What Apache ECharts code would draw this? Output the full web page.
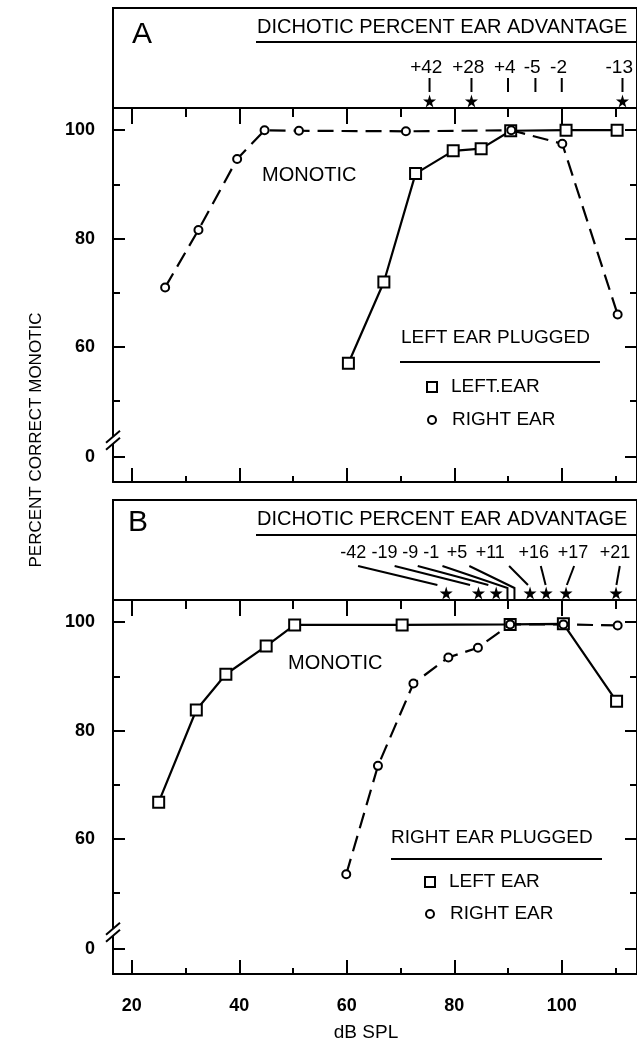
<!DOCTYPE html>
<html>
<head>
<meta charset="utf-8">
<script src="https://cdn.jsdelivr.net/npm/echarts@6/dist/echarts.min.js"></script>
<style>
  html, body { margin: 0; padding: 0; background: #fff; }
  #chart { width: 637px; height: 1044px; }
</style>
</head>
<body>
<div id="chart"></div>
<script>
// ---- Monotic percent correct vs. sound level (dB SPL) ----
// Panel A: left ear plugged
const panelA_leftEar_db   = [60.3, 66.9, 72.8, 79.8, 85, 90.5, 100.8, 110.3];
const panelA_leftEar_pct  = [57, 72, 92, 96.2, 96.6, 99.9, 100, 100];
const panelA_rightEar_db  = [26.2, 32.4, 39.6, 44.7, 51.1, 71, 90.6, 100.1, 110.4];
const panelA_rightEar_pct = [71, 81.6, 94.7, 100, 99.9, 99.8, 100, 97.5, 66];

// Panel B: right ear plugged
const panelB_leftEar_db   = [25, 32, 37.5, 45, 50.3, 70.3, 90.4, 100.3, 110.2];
const panelB_leftEar_pct  = [66.8, 83.8, 90.4, 95.6, 99.5, 99.5, 99.6, 99.7, 85.4];
const panelB_rightEar_db  = [59.9, 65.8, 72.4, 78.9, 84.4, 90.4, 100.3, 110.4];
const panelB_rightEar_pct = [53.5, 73.5, 88.7, 93.5, 95.3, 99.6, 99.6, 99.4];

// ---- Dichotic percent ear advantage annotations ----
const dichoticA_labels = ['+42', '+28', '+4', '-5', '-2', '-13'];
const dichoticA_db     = [75.4, 83.2, 90, 95.1, 100, 111.3];
const dichoticA_star   = [true, true, false, false, false, true];

const dichoticB_labels     = ['-42', '-19', '-9', '-1', '+5', '+11', '+16', '+17', '+21'];
const dichoticB_labelDb    = [61.2, 67.0, 71.8, 75.7, 80.5, 86.7, 94.8, 102.1, 109.9];
const dichoticB_leaderFrom = [62.1, 68.9, 73.2, 77.8, 82.8, 90.2, 96.1, 102.3, 110.8];
const dichoticB_db         = [78.5, 84.5, 87.8, 89.9, 91.2, 94.1, 97.1, 100.8, 110.1];
const dichoticB_star       = [true, true, true, false, false, true, true, true, true];

// ---- Axis ticks / labels ----
const xMajorTicks = [20, 40, 60, 80, 100];
const xMinorTicks = [30, 50, 70, 90, 110];
const yBreakZero  = 39.7;            // broken axis: where "0" sits
const yBreakMark  = 42.8;            // where the // break symbol crosses the axis
const yMajorTicks = [yBreakZero, 60, 80, 100];
const yMinorTicks = [50, 70, 90];

// ---- Layout / style ----
const INK = '#000';
const FONT = '"Liberation Sans", Arial, Helvetica, sans-serif';
const X_MIN = 16.5, X_MAX = 114;
const Y_MIN = 35.1, Y_MAX = 104.1;
const GL = 113, GW = 525;
const STAR = 'path://M50,0 L61,35 L98,35 L68,57 L79,91 L50,70 L21,91 L32,57 L2,35 L39,35 Z';

const chart = echarts.init(document.getElementById('chart'));

const tickLine = { color: INK, width: 2 };
const axisLineOn = { show: true, lineStyle: { color: INK, width: 2 } };

function plotXAxes(gridIndex, showLabels) {
  const base = { gridIndex, type: 'value', min: X_MIN, max: X_MAX, splitLine: { show: false } };
  return [
    Object.assign({}, base, {
      position: 'bottom', axisLine: axisLineOn,
      axisTick: { show: true, inside: true, length: 14, customValues: xMajorTicks, lineStyle: tickLine },
      axisLabel: { show: showLabels, customValues: xMajorTicks, margin: 23, color: INK, fontSize: 18, fontWeight: 'bold', fontFamily: FONT }
    }),
    Object.assign({}, base, {
      position: 'bottom', axisLine: { show: false },
      axisTick: { show: true, inside: true, length: 6, customValues: xMinorTicks, lineStyle: tickLine },
      axisLabel: { show: false }
    }),
    Object.assign({}, base, {
      position: 'top', axisLine: axisLineOn,
      axisTick: { show: true, inside: true, length: 16, customValues: xMajorTicks, lineStyle: tickLine },
      axisLabel: { show: false }
    }),
    Object.assign({}, base, {
      position: 'top', axisLine: { show: false },
      axisTick: { show: true, inside: true, length: 9, customValues: xMinorTicks, lineStyle: tickLine },
      axisLabel: { show: false }
    })
  ];
}

function plotYAxes(gridIndex) {
  const base = { gridIndex, type: 'value', min: Y_MIN, max: Y_MAX, splitLine: { show: false } };
  return [
    Object.assign({}, base, {
      position: 'left', axisLine: axisLineOn,
      axisTick: { show: true, inside: true, length: 12, customValues: yMajorTicks, lineStyle: tickLine },
      axisLabel: {
        show: true, customValues: yMajorTicks, margin: 18, color: INK, fontSize: 18, fontWeight: 'bold', fontFamily: FONT,
        formatter: v => (Math.abs(v - yBreakZero) < 0.01 ? '0' : String(v))
      }
    }),
    Object.assign({}, base, {
      position: 'left', axisLine: { show: false },
      axisTick: { show: true, inside: true, length: 7, customValues: yMinorTicks, lineStyle: tickLine },
      axisLabel: { show: false }
    }),
    Object.assign({}, base, {
      position: 'right', axisLine: axisLineOn,
      axisTick: { show: true, inside: true, length: 12, customValues: yMajorTicks, lineStyle: tickLine },
      axisLabel: { show: false }
    }),
    Object.assign({}, base, {
      position: 'right', axisLine: { show: false },
      axisTick: { show: true, inside: true, length: 7, customValues: yMinorTicks, lineStyle: tickLine },
      axisLabel: { show: false }
    })
  ];
}

function headerX(gridIndex) {
  return { gridIndex, type: 'value', min: X_MIN, max: X_MAX, show: false };
}
function headerY(gridIndex) {
  // header band measured in pixels up from its bottom rule
  return { gridIndex, type: 'value', min: 0, max: 100, show: false };
}

const zip = (xs, ys) => xs.map((x, i) => [x, ys[i]]);

function earSeries(name, xs, ys, xi, yi, isLeft) {
  return {
    name, type: 'line', xAxisIndex: xi, yAxisIndex: yi,
    data: zip(xs, ys),
    symbol: isLeft ? 'emptyRect' : 'emptyCircle',
    symbolSize: isLeft ? 11 : 8,
    showAllSymbol: true,
    clip: false,
    z: isLeft ? 3 : 4,
    lineStyle: { color: INK, width: 2.2, type: isLeft ? 'solid' : [16, 8] },
    itemStyle: { color: INK, borderColor: INK, borderWidth: 2 },
    emphasis: { disabled: true }
  };
}

function starSeries(xs, flags, xi, yi) {
  return {
    type: 'scatter', xAxisIndex: xi, yAxisIndex: yi, symbol: STAR, symbolSize: 13,
    data: xs.filter((x, i) => flags[i]).map(x => [x, 7]),
    itemStyle: { color: INK, opacity: 1 }, emphasis: { disabled: true }, silent: true
  };
}

function labelSeries(xs, names, y, size, xi, yi) {
  return {
    type: 'scatter', xAxisIndex: xi, yAxisIndex: yi, symbolSize: 0,
    data: xs.map((x, i) => ({ value: [x, y], name: names[i] })),
    itemStyle: { color: 'transparent', opacity: 1 },
    label: { show: true, position: 'inside', formatter: '{b}', color: INK, opacity: 1, fontSize: size, fontFamily: FONT },
    labelLayout: { hideOverlap: false },
    emphasis: { disabled: true }, silent: true
  };
}

// header A: short vertical dashes under each value
const dashesA = dichoticA_db.map(x => ({ coords: [[x, 30], [x, 16]] }));
// header B: slanted leaders from the value to its star (or down to the rule)
const leadersB = dichoticB_db.map((x, i) => {
  const from = dichoticB_leaderFrom[i];
  if (dichoticB_star[i]) {
    return { coords: [[from, 34], [x - 0.1 * (x - from), 15]] };
  }
  return { coords: [[from, 34], [x, 12], [x, 0]] };
});

function leaderSeries(data, xi, yi) {
  return {
    type: 'lines', coordinateSystem: 'cartesian2d', xAxisIndex: xi, yAxisIndex: yi,
    polyline: true, data,
    lineStyle: { color: INK, width: 2, opacity: 1 },
    silent: true
  };
}

function legendEntry(name, icon, size, left, centerY) {
  return {
    data: [{ name, icon }], left, top: centerY - 11, orient: 'vertical', padding: 0,
    itemWidth: size, itemHeight: size, selectedMode: false,
    itemStyle: { color: '#fff', borderColor: INK, borderWidth: 2 },
    textStyle: { color: INK, fontSize: 19, fontFamily: FONT, lineHeight: 22, padding: [0, 0, 0, 19 - size] }
  };
}

const option = {
  animation: false,
  backgroundColor: '#fff',
  textStyle: { fontFamily: FONT },
  grid: [
    { left: GL, top: 8,   width: GW, height: 100, show: true, borderColor: INK, borderWidth: 2, backgroundColor: 'transparent' },
    { left: GL, top: 108, width: GW, height: 374 },
    { left: GL, top: 500, width: GW, height: 100, show: true, borderColor: INK, borderWidth: 2, backgroundColor: 'transparent' },
    { left: GL, top: 600, width: GW, height: 374 }
  ],
  xAxis: [headerX(0)].concat(plotXAxes(1, false), [headerX(2)], plotXAxes(3, true)),
  yAxis: [headerY(0)].concat(plotYAxes(1), [headerY(2)], plotYAxes(3)),
  legend: [
    legendEntry('LEFT.EAR', 'rect', 10, 426, 387),
    legendEntry('RIGHT EAR', 'circle', 8, 427, 420),
    legendEntry('LEFT EAR', 'rect', 10, 424, 882),
    legendEntry('RIGHT EAR', 'circle', 8, 425, 914)
  ],
  series: [
    // panel A
    earSeries('LEFT.EAR', panelA_leftEar_db, panelA_leftEar_pct, 1, 1, true),
    earSeries('RIGHT EAR', panelA_rightEar_db, panelA_rightEar_pct, 1, 1, false),
    starSeries(dichoticA_db, dichoticA_star, 0, 0),
    labelSeries(dichoticA_db.map(x => x - 0.6), dichoticA_labels, 40, 19, 0, 0),
    leaderSeries(dashesA, 0, 0),
    // panel B
    earSeries('LEFT EAR', panelB_leftEar_db, panelB_leftEar_pct, 6, 6, true),
    earSeries('RIGHT EAR', panelB_rightEar_db, panelB_rightEar_pct, 6, 6, false),
    starSeries(dichoticB_db, dichoticB_star, 5, 5),
    labelSeries(dichoticB_labelDb, dichoticB_labels, 46.5, 18, 5, 5),
    leaderSeries(leadersB, 5, 5)
  ]
};

chart.setOption(option);

// ---- text, rules and axis-break symbols ----
function txt(text, x, y, size, align, extra) {
  return Object.assign({
    type: 'text', x, y, silent: true,
    style: { text, fill: INK, fontSize: size, fontFamily: FONT, textAlign: align || 'left', textVerticalAlign: 'middle' }
  }, extra || {});
}
function rule(x1, y1, x2, y2, w) {
  return { type: 'line', silent: true, shape: { x1, y1, x2, y2 }, style: { stroke: INK, lineWidth: w || 2 } };
}
function breakMark(gridIdx) {
  const xi = gridIdx === 1 ? 1 : 6;
  const p = chart.convertToPixel({ xAxisIndex: xi, yAxisIndex: xi }, [X_MIN, yBreakMark]);
  const ax = p[0], cy = p[1];
  return [
    { type: 'rect', silent: true, shape: { x: ax - 2, y: cy - 3.5, width: 4, height: 7 }, style: { fill: '#fff' }, z: 100 },
    { type: 'line', silent: true, z: 101, shape: { x1: ax - 7, y1: cy - 3.5 + 6, x2: ax + 7, y2: cy - 3.5 - 6 }, style: { stroke: INK, lineWidth: 2 } },
    { type: 'line', silent: true, z: 101, shape: { x1: ax - 7, y1: cy + 3.5 + 6, x2: ax + 7, y2: cy + 3.5 - 6 }, style: { stroke: INK, lineWidth: 2 } }
  ];
}

chart.setOption({
  graphic: [
    txt('A', 132, 35, 30),
    txt('B', 128, 523, 30),
    txt('DICHOTIC PERCENT EAR ADVANTAGE', 257, 27, 20),
    rule(256, 42, 637, 42),
    txt('DICHOTIC PERCENT EAR ADVANTAGE', 257, 519, 20),
    rule(256, 535, 637, 535),
    txt('MONOTIC', 262, 175, 20),
    txt('MONOTIC', 288, 663, 20),
    txt('LEFT EAR PLUGGED', 401, 338, 19),
    rule(400, 362, 600, 362),
    txt('RIGHT EAR PLUGGED', 391, 838, 19),
    rule(391, 859, 602, 859),
    txt('PERCENT CORRECT MONOTIC', 36, 440, 17, 'center', { rotation: Math.PI / 2 }),
    txt('dB SPL', 366, 1033, 19, 'center')
  ].concat(breakMark(1), breakMark(3))
});
</script>
</body>
</html>
